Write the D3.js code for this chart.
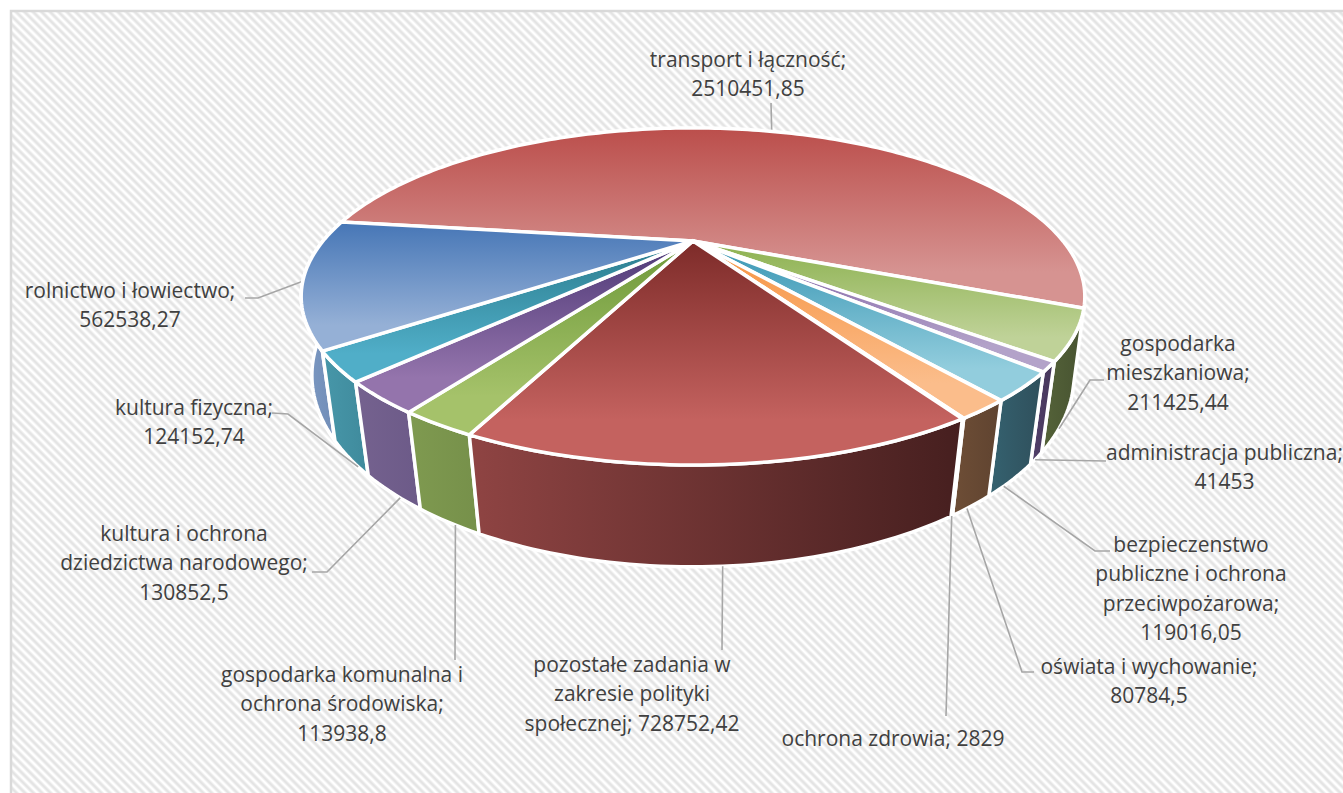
<!DOCTYPE html>
<html>
<head>
<meta charset="utf-8">
<script src="https://cdn.jsdelivr.net/npm/d3@7/dist/d3.min.js"></script>
<style>
  html, body { margin: 0; padding: 0; background: #fff; overflow: hidden; }
  text { font-family: "Open Sans", sans-serif; font-size: 21px; fill: #404040; text-anchor: middle; }
</style>
</head>
<body>
<svg id="chart" width="1343" height="793"></svg>
<script>
var categories = ["transport i łączność", "gospodarka mieszkaniowa", "administracja publiczna",
  "bezpieczenstwo publiczne i ochrona przeciwpożarowa", "oświata i wychowanie", "ochrona zdrowia",
  "pozostałe zadania w zakresie polityki społecznej", "gospodarka komunalna i ochrona środowiska",
  "kultura i ochrona dziedzictwa narodowego", "kultura fizyczna", "rolnictwo i łowiectwo"];
var values = [2510451.85, 211425.44, 41453, 119016.05, 80784.5, 2829, 728752.42, 113938.8, 130852.5, 124152.74, 562538.27];

// how each label breaks over its lines, last one carries the value
var labelBreaks = [
  ["transport i łączność;", "2510451,85"],
  ["gospodarka", "mieszkaniowa;", "211425,44"],
  ["administracja publiczna;", "41453"],
  ["bezpieczenstwo", "publiczne i ochrona", "przeciwpożarowa;", "119016,05"],
  ["oświata i wychowanie;", "80784,5"],
  ["ochrona zdrowia; 2829"],
  ["pozostałe zadania w", "zakresie polityki", "społecznej; 728752,42"],
  ["gospodarka komunalna i", "ochrona środowiska;", "113938,8"],
  ["kultura i ochrona", "dziedzictwa narodowego;", "130852,5"],
  ["kultura fizyczna;", "124152,74"],
  ["rolnictwo i łowiectwo;", "562538,27"]
];
// label block centre x, first baseline
var labelPos = [[748,67],[1178,351],[1224.5,460],[1191,552],[1149,674],[893,746],[632,672],[342,682],[184,541],[194,415],[130,298]];
// leader line, from the label side; the pie end comes from the slice
var leaderPts = [[[771,103]],[[1104,380],[1090,380]],[[1106,461]],[[1110,551],[1095,551]],[[1034,672],[1022,672]],[[946,716]],[[722,650]],[[455,660]],[[312,572],[327,572]],[[272,413],[288,414]],[[245,298],[258,298]]];
// where along its slice (0..1) and how far down the wall (0..1) each leader lands
var leaderFrac = [0.505,0.6,0.6,0.68,0.62,0.5,0.5,0.38,0.35,0.26,0.5];
var leaderDepth = [0,1,1,1,1,1,1,1,1,1,0];
var topColors = [["#bb4e4b","#d69391"],["#8cb14f","#bfd298"],["#7c5ca2","#b3a2c9"],["#3795b3","#92cddd"],["#f6923f","#fbbd8b"],["#f6923f","#fbbd8b"],["#7d2b29","#c4625f"],["#6c9838","#a5c26a"],["#4c3775","#9474ac"],["#2a7b8c","#50aec8"],["#4676b6","#95b0d6"]];
var wallColors = [["#8a5553","#7a4a48"],["#556339","#475331"],["#52406b","#453659"],["#356270","#2f4f5b"],["#6e4e36","#5f4330"],["#6e4e36","#5f4330"],["#8f4443","#461f1f"],["#7f9a50","#76904a"],["#75628f","#6c5a88"],["#4797a9","#3f8a9c"],["#7d9ac4","#6c88b2"]];

var svg = d3.select("#chart");
var defs = svg.append("defs");

var hatch = defs.append("pattern").attr("id","hatch").attr("patternUnits","userSpaceOnUse")
    .attr("width",6).attr("height",6).attr("patternTransform","rotate(-45)");
hatch.append("rect").attr("width",6).attr("height",6).attr("fill","#fff");
hatch.append("rect").attr("x",1).attr("width",4).attr("height",6).attr("fill","#f1f1f1");
hatch.append("rect").attr("x",2).attr("width",2).attr("height",6).attr("fill","#e4e4e4");

svg.append("rect").attr("x",11).attr("y",11).attr("width",1345).attr("height",795)
    .attr("fill","url(#hatch)").attr("stroke","#d9d9d9").attr("stroke-width",2.5);

// perspective: unit circle on the top of the pie, the bottom disc has its own numbers
var cx = 693, cy = 241;
var topDisc = {Rx:370, Ry:150.3, k:0.329, m:0, h:0};
var botDisc = {Rx:370, Ry:153, k:0.317, m:0.0213, h:76.5};
function project(a, depth) {
  var u = Math.sin(a), v = -Math.cos(a);
  var k = topDisc.k+(botDisc.k-topDisc.k)*depth,
      m = botDisc.m*depth,
      ry = topDisc.Ry+(botDisc.Ry-topDisc.Ry)*depth,
      h = botDisc.h*depth;
  var d = 1 - k*v + m;
  return [cx + topDisc.Rx*u/d, cy + (ry*v + h)/d];
}
function arcPts(a0, a1, depth) {
  var n = Math.max(2, Math.ceil((a1-a0)/0.02)), pts = [];
  for (var i=0;i<=n;i++) pts.push(project(a0+(a1-a0)*i/n, depth));
  return pts;
}
var line = d3.line();

var start = -82.4*Math.PI/180;
var pie = d3.pie().sort(null).startAngle(start).endAngle(start+2*Math.PI);
var slices = pie(values);

function gradient(id, cols, vertical) {
  var g = defs.append("linearGradient").attr("id",id)
    .attr("x1",0).attr("y1",0).attr("x2",vertical?0:1).attr("y2",vertical?0.8:0);
  g.append("stop").attr("offset",0).attr("stop-color",cols[0]);
  g.append("stop").attr("offset",1).attr("stop-color",cols[1]);
}
slices.forEach(function(d,i){
  gradient("top"+i, topColors[i], true);
  gradient("wall"+i, wallColors[i], false);
});

function midAngle(d) { return (d.startAngle+d.endAngle)/2; }

// walls, only the near half shows; outer ones first
var order = d3.range(slices.length)
    .filter(function(i){return Math.cos(midAngle(slices[i]))<0;})
    .sort(function(a,b){return Math.cos(midAngle(slices[b]))-Math.cos(midAngle(slices[a]));});
svg.append("g").selectAll("path").data(order).enter().append("path")
    .attr("d",function(i){
      var d = slices[i];
      return line(arcPts(d.startAngle,d.endAngle,0).concat(arcPts(d.startAngle,d.endAngle,1).reverse()))+"Z";
    })
    .attr("fill",function(i){return "url(#wall"+i+")";})
    .attr("stroke","#fff").attr("stroke-width",3.5).attr("stroke-linejoin","round");

// leaders under the tops
svg.append("g").selectAll("path").data(slices).enter().append("path")
    .attr("d",function(d,i){
      var a = d.startAngle+(d.endAngle-d.startAngle)*leaderFrac[i];
      return line(leaderPts[i].concat([project(a,leaderDepth[i])]));
    })
    .attr("fill","none").attr("stroke","#a6a6a6").attr("stroke-width",1.6);

// top faces
svg.append("g").selectAll("path").data(slices).enter().append("path")
    .attr("d",function(d){
      return line([[cx,cy]].concat(arcPts(d.startAngle,d.endAngle,0)))+"Z";
    })
    .attr("fill",function(d,i){return "url(#top"+i+")";})
    .attr("stroke","#fff").attr("stroke-width",3.5).attr("stroke-linejoin","miter");

// labels
var labels = svg.append("g").selectAll("text").data(slices).enter().append("text")
    .attr("data-cat",function(d,i){return categories[i];})
    .attr("transform",function(d,i){return "translate("+labelPos[i][0]+","+labelPos[i][1]+")";});
labels.selectAll("tspan").data(function(d,i){return labelBreaks[i];}).enter().append("tspan")
    .attr("x",0).attr("y",function(d,j){return j*29.3;}).text(function(d){return d;});
</script>
</body>
</html>
